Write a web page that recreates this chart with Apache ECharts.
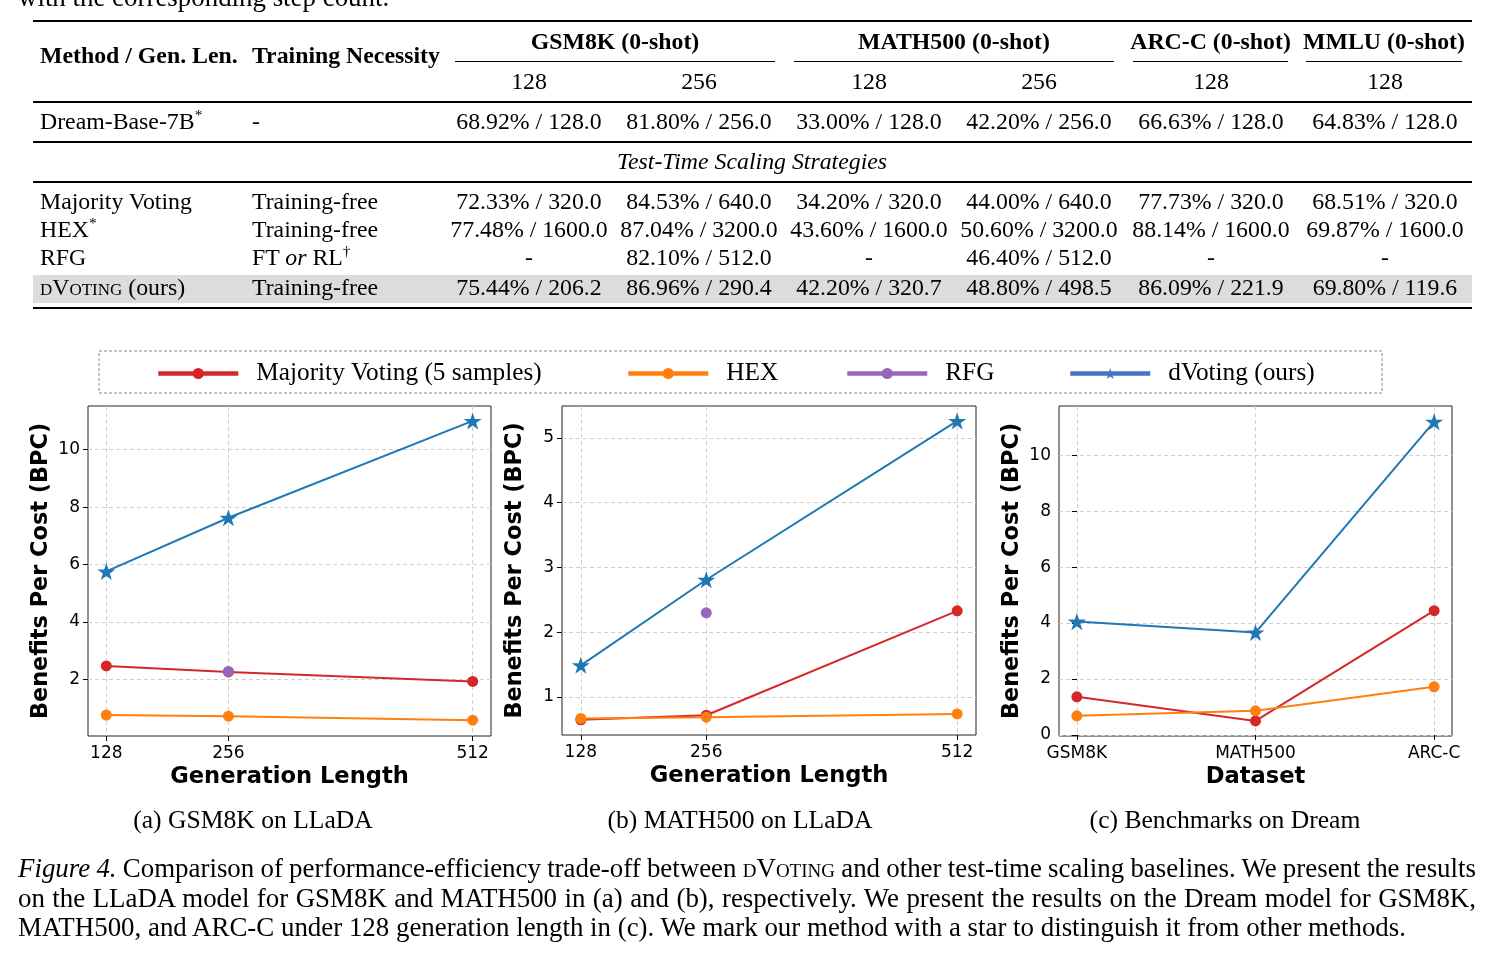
<!DOCTYPE html>
<html>
<head>
<meta charset="utf-8">
<script src="https://cdn.jsdelivr.net/npm/echarts@6/dist/echarts.min.js"></script>
<style>
  body { margin: 0; width: 1494px; height: 958px; background: #fff; position: relative; overflow: hidden;
         font-family: "Liberation Serif", "Times New Roman", serif; color: #000; }
  #chart { position: absolute; left: 0; top: 0; width: 1494px; height: 958px; }
  .t { position: absolute; white-space: nowrap; font-size: 23.8px; line-height: 26px; }
  .c { transform: translateX(-50%); }
  .b { font-weight: bold; }
  .rule { position: absolute; left: 33px; width: 1439px; background: #000; }
  .sc { font-variant: small-caps; }
  sup { font-size: 0.65em; line-height: 0; vertical-align: 0.6em; }
  .cap { position: absolute; white-space: nowrap; font-size: 25.6px; line-height: 30px; }
  .fig { position: absolute; left: 18px; font-size: 26.9px; line-height: 30px; white-space: nowrap; }
</style>
</head>
<body>
<div id="chart"></div>
<div id="table"></div>
<script>
// ---- table data ----
const colX = [529, 699, 869, 1039, 1211, 1385];
const groupNames = ['GSM8K (0-shot)', 'MATH500 (0-shot)', 'ARC-C (0-shot)', 'MMLU (0-shot)'];
const groupSpans = [[455, 775], [794, 1114], [1133, 1288], [1306, 1462]];
const subHeads = ['128', '256', '128', '256', '128', '128'];
const baseRow = ['68.92% / 128.0', '81.80% / 256.0', '33.00% / 128.0', '42.20% / 256.0', '66.63% / 128.0', '64.83% / 128.0'];
const mvRow = ['72.33% / 320.0', '84.53% / 640.0', '34.20% / 320.0', '44.00% / 640.0', '77.73% / 320.0', '68.51% / 320.0'];
const hexRow = ['77.48% / 1600.0', '87.04% / 3200.0', '43.60% / 1600.0', '50.60% / 3200.0', '88.14% / 1600.0', '69.87% / 1600.0'];
const rfgRow = ['-', '82.10% / 512.0', '-', '46.40% / 512.0', '-', '-'];
const dvRow = ['75.44% / 206.2', '86.96% / 290.4', '42.20% / 320.7', '48.80% / 498.5', '86.09% / 221.9', '69.80% / 119.6'];

// ---- chart data ----
const genLens = [128, 256, 512];
const datasets = ['GSM8K', 'MATH500', 'ARC-C'];
const mvA = [2.47, 2.26, 1.93];
const hexA = [0.76, 0.72, 0.58];
const rfgA = [null, 2.28, null];
const dvA = [5.76, 7.63, 11.0];
const mvB = [0.65, 0.72, 2.33];
const hexB = [0.67, 0.69, 0.74];
const rfgB = [null, 2.30, null];
const dvB = [1.49, 2.81, 5.26];
const mvC = [1.36, 0.50, 4.44];
const hexC = [0.68, 0.86, 1.72];
const dvC = [4.05, 3.66, 11.2];
const yTicksA = [2, 4, 6, 8, 10];
const yTicksB = [1, 2, 3, 4, 5];
const yTicksC = [0, 2, 4, 6, 8, 10];
const legendNames = ['Majority Voting (5 samples)', 'HEX', 'RFG', 'dVoting (ours)'];

// build table
const tbl = document.getElementById('table');
function put(html, x, y, cls) {
  const d = document.createElement('div');
  d.className = 't ' + (cls || '');
  d.innerHTML = html;
  d.style.left = x + 'px';
  d.style.top = (y - 14) + 'px';
  tbl.appendChild(d);
  return d;
}
function rule(y, h, x0, x1) {
  const d = document.createElement('div');
  d.className = 'rule';
  d.style.top = y + 'px';
  d.style.height = h + 'px';
  if (x0 != null) { d.style.left = x0 + 'px'; d.style.width = (x1 - x0) + 'px'; }
  tbl.appendChild(d);
}
// highlight band
const band = document.createElement('div');
band.style.cssText = 'position:absolute;left:33px;top:275px;width:1439px;height:28px;background:#dcdcdc';
tbl.appendChild(band);

put('with the corresponding step count.', 18, -2, '').style.fontSize = '26.9px';
rule(20, 2);
put('Method / Gen. Len.', 40, 56, 'b');
put('Training Necessity', 252, 56, 'b');
groupNames.forEach((g, i) => {
  const s = groupSpans[i];
  put(g, (s[0] + s[1]) / 2, 42, 'b c');
  rule(61, 1, s[0], s[1]);
});
subHeads.forEach((s, i) => put(s, colX[i], 82, 'c'));
rule(101, 1.5);
put('Dream-Base-7B<sup>*</sup>', 40, 122);
put('-', 252, 122);
baseRow.forEach((v, i) => put(v, colX[i], 122, 'c'));
rule(141, 1.5);
put('<i>Test-Time Scaling Strategies</i>', 752, 162, 'c');
rule(181, 1.5);
const rows = [
  ['Majority Voting', 'Training-free', mvRow, 202],
  ['HEX<sup>*</sup>', 'Training-free', hexRow, 230],
  ['RFG', 'FT <i>or</i> RL<sup>†</sup>', rfgRow, 258],
  ['<span class="sc">dVoting</span> (ours)', 'Training-free', dvRow, 288]
];
rows.forEach(r => {
  put(r[0], 40, r[3]);
  put(r[1], 252, r[3]);
  r[2].forEach((v, i) => put(v, colX[i], r[3], 'c'));
});
rule(307, 2);

// subplot captions
[['(a) GSM8K on LLaDA', 253], ['(b) MATH500 on LLaDA', 740], ['(c) Benchmarks on Dream', 1225]].forEach(c => {
  const d = document.createElement('div');
  d.className = 'cap c';
  d.textContent = c[0];
  d.style.left = c[1] + 'px';
  d.style.top = (820 - 15) + 'px';
  tbl.appendChild(d);
});
// figure caption (justified lines: spread spaces to fill 1458px)
const figLines = [
  ['<i>Figure 4.</i> Comparison of performance-efficiency trade-off between <span class="sc">dVoting</span> and other test-time scaling baselines. We present the results', 868, true],
  ['on the LLaDA model for GSM8K and MATH500 in (a) and (b), respectively. We present the results on the Dream model for GSM8K,', 898, true],
  ['MATH500, and ARC-C under 128 generation length in (c). We mark our method with a star to distinguish it from other methods.', 927, false]
];
figLines.forEach(l => {
  const d = document.createElement('div');
  d.className = 'fig';
  d.innerHTML = l[0];
  d.style.top = (l[1] - 15) + 'px';
  tbl.appendChild(d);
  if (l[2]) {
    const w = d.getBoundingClientRect().width;
    const spaces = (d.textContent.match(/ /g) || []).length;
    d.style.wordSpacing = ((1458 - w) / spaces) + 'px';
  }
});

// ---- chart ----
const RED = '#d62728', ORANGE = '#ff7f0e', PURPLE = '#9467bd', BLUE = '#1f77b4';
const STAR = 'path://M50,0 L61.2,34.5 L97.6,34.5 L68.2,55.9 L79.4,90.5 L50,69.1 L20.6,90.5 L31.8,55.9 L2.4,34.5 L38.8,34.5 Z';
const sans = 'DejaVu Sans';

function pairs(xs, ys) {
  const out = [];
  ys.forEach((v, i) => { if (v != null) out.push([xs[i], v]); });
  return out;
}
function line(name, gi, xs, ys, color, star) {
  return {
    name, type: 'line', xAxisIndex: gi, yAxisIndex: gi,
    data: pairs(xs, ys),
    symbol: star ? STAR : 'circle',
    symbolSize: star ? 18 : 11,
    symbolKeepAspect: true,
    itemStyle: { color },
    lineStyle: { color, width: 2 },
    emphasis: { disabled: true },
    animation: false
  };
}
const gridLine = { show: true, lineStyle: { type: [4, 3], color: '#cfcfcf', width: 1 } };
function xAxis(gi, min, max, ticks, fmt, name) {
  return {
    type: 'value', gridIndex: gi, min, max,
    name, nameLocation: 'middle', nameGap: 30,
    nameTextStyle: { fontFamily: sans, fontWeight: 'bold', fontSize: 22.6, color: '#000' },
    axisLine: { show: false },
    axisTick: { show: true, length: 5, customValues: ticks, lineStyle: { color: '#000' } },
    axisLabel: { customValues: ticks, formatter: fmt, fontFamily: sans, fontSize: 17, color: '#000', margin: 9 },
    splitLine: gridLine
  };
}
function yAxis(gi, min, max, ticks) {
  return {
    type: 'value', gridIndex: gi, min, max,
    name: 'Benefits Per Cost (BPC)', nameLocation: 'middle', nameGap: 36,
    nameTextStyle: { fontFamily: sans, fontWeight: 'bold', fontSize: 22.4, color: '#000' },
    axisLine: { show: false },
    axisTick: { show: true, length: 5, customValues: ticks, lineStyle: { color: '#000' } },
    axisLabel: { customValues: ticks, fontFamily: sans, fontSize: 17, color: '#000', margin: 8 },
    splitLine: gridLine
  };
}
const dsIdx = datasets.map((d, i) => i);
const gridBase = { show: true, borderColor: '#222', borderWidth: 1, backgroundColor: 'transparent' };
const legendLeft = [151, 621, 840, 1063];
const legends = legendNames.map((n, i) => ({
  left: legendLeft[i], top: 356, itemWidth: 80, itemHeight: 14,
  lineStyle: { width: 4.5 },
  textStyle: { fontFamily: 'Liberation Serif', fontSize: 25.3, color: '#000', padding: [0, 0, 0, 13] },
  data: [i === 3 ? { name: n, itemStyle: { color: '#4472c4' }, lineStyle: { color: '#4472c4' } } : { name: n }]
}));

const chart = echarts.init(document.getElementById('chart'), null, { renderer: 'canvas' });
chart.setOption({
  animation: false,
  grid: [
    Object.assign({ left: 88, top: 406, width: 403, height: 330 }, gridBase),
    Object.assign({ left: 562, top: 406, width: 414, height: 329 }, gridBase),
    Object.assign({ left: 1059, top: 406, width: 393, height: 330 }, gridBase)
  ],
  xAxis: [
    xAxis(0, 108.8, 531.2, genLens, v => String(v), 'Generation Length'),
    xAxis(1, 108.8, 531.2, genLens, v => String(v), 'Generation Length'),
    xAxis(2, -0.1, 2.1, dsIdx, v => datasets[Math.round(v)], 'Dataset')
  ],
  yAxis: [
    yAxis(0, 0.03, 11.52, yTicksA),
    yAxis(1, 0.415, 5.49, yTicksB),
    yAxis(2, -0.04, 11.76, yTicksC)
  ],
  legend: legends,
  graphic: [{
    type: 'rect', shape: { x: 99, y: 351, width: 1283, height: 42 },
    style: { fill: 'none', stroke: '#888', lineWidth: 1, lineDash: [3, 2] }, silent: true
  }],
  series: [
    line(legendNames[0], 0, genLens, mvA, RED),
    line(legendNames[1], 0, genLens, hexA, ORANGE),
    line(legendNames[2], 0, genLens, rfgA, PURPLE),
    line(legendNames[3], 0, genLens, dvA, BLUE, true),
    line(legendNames[0], 1, genLens, mvB, RED),
    line(legendNames[1], 1, genLens, hexB, ORANGE),
    line(legendNames[2], 1, genLens, rfgB, PURPLE),
    line(legendNames[3], 1, genLens, dvB, BLUE, true),
    line(legendNames[0], 2, dsIdx, mvC, RED),
    line(legendNames[1], 2, dsIdx, hexC, ORANGE),
    line(legendNames[3], 2, dsIdx, dvC, BLUE, true)
  ]
});
</script>
</body>
</html>
